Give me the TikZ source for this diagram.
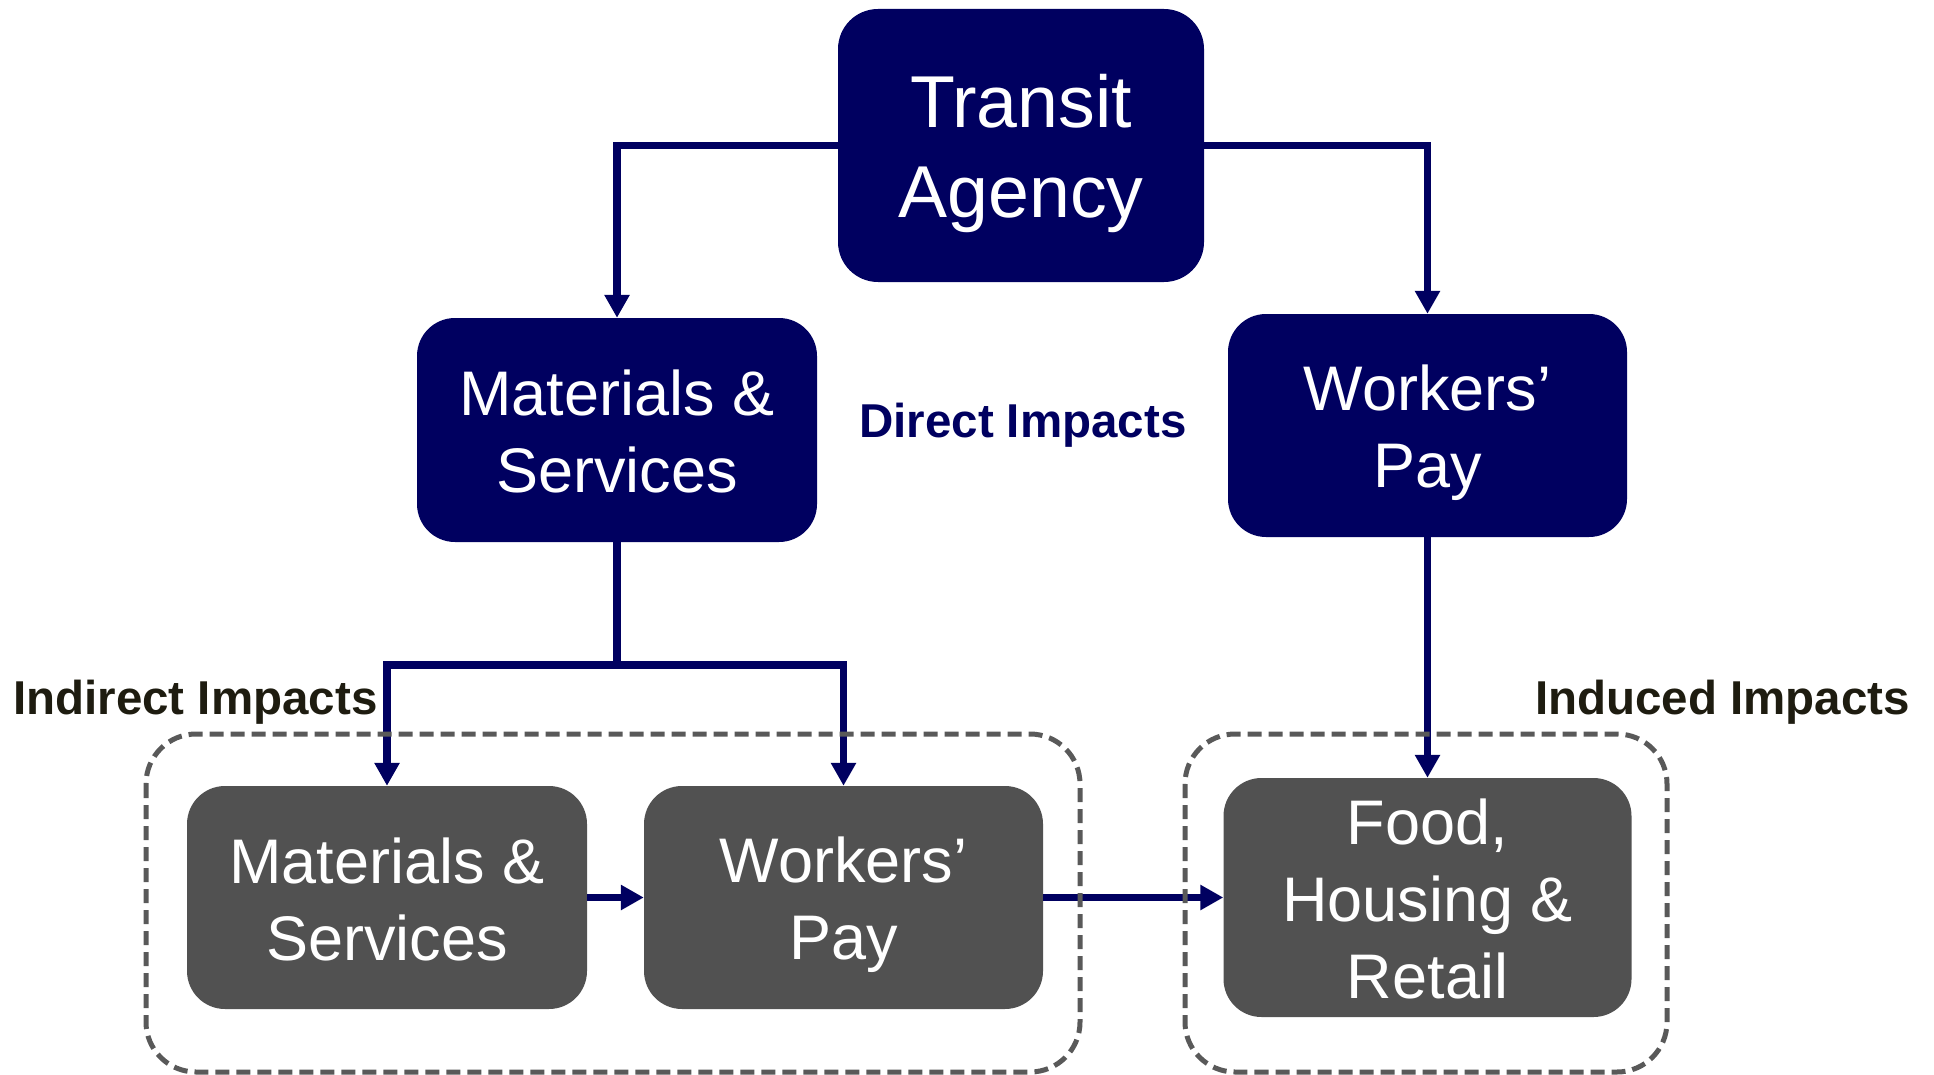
\documentclass[tikz,border=0pt]{standalone}
\usepackage{fontspec}
\setmainfont{Liberation Sans}
\usetikzlibrary{arrows.meta}
\definecolor{navy}{RGB}{0,0,96}
\definecolor{boxgray}{RGB}{81,81,81}
\definecolor{dashgray}{RGB}{89,89,89}
\definecolor{labeldark}{RGB}{30,28,16}
\newcommand{\strA}{\rule[-12pt]{0pt}{72pt}}
\newcommand{\strT}{\rule[-15pt]{0pt}{85pt}}
\begin{document}
\begin{tikzpicture}[x=1pt,y=-1pt,
  box/.style={rounded corners=38pt, inner sep=0pt, text=white, align=center,
    font=\fontsize{63}{77}\selectfont},
  navybox/.style={box, fill=navy},
  graybox/.style={box, fill=boxgray},
  conn/.style={draw=navy, line width=7.5pt, -{Triangle[width=24pt,length=23pt]}},
  plainconn/.style={draw=navy, line width=7.5pt},
  groupbox/.style={draw=dashgray, line width=5pt, dash pattern=on 14pt off 7pt, rounded corners=50pt},
  impact/.style={font=\fontsize{47.5}{57}\selectfont\bfseries, inner sep=0pt}]
\useasboundingbox (0,0) rectangle (1934,1075);

\node[navybox, minimum width=366pt, minimum height=273pt, rounded corners=40pt,
  font=\fontsize{73.5}{90}\selectfont] (TA) at (1021,145.5) {\strT Transit\\Agency\strT};
\node[navybox, minimum width=400pt, minimum height=224pt] (MS1) at (617,430) {\strA Materials \&\\Services\strA};
\node[navybox, minimum width=399pt, minimum height=223pt] (WP1) at (1427.5,425.5) {\strA Workers’\\Pay\strA};
\node[graybox, minimum width=400pt, minimum height=223pt] (MS2) at (387,897.5) {\strA Materials \&\\Services\strA};
\node[graybox, minimum width=399pt, minimum height=223pt] (WP2) at (843.5,897.5) {\strA Workers’\\Pay\strA};
\node[graybox, minimum width=408pt, minimum height=239pt] (Food) at (1427.5,897.5) {\strA Food,\\Housing \&\\Retail\strA};

\node[impact, text=navy, anchor=base west] (DI) at (859,437) {Direct Impacts};
\node[impact, text=labeldark, anchor=base west] (II) at (13,714) {Indirect Impacts};
\node[impact, text=labeldark, anchor=base east] (IN) at (1910,714) {Induced Impacts};

\draw[conn] (TA.west) -| (MS1.north);
\draw[conn] (TA.east) -| (WP1.north);
\coordinate (split) at (617,665);
\draw[plainconn] (MS1.south) -- (split);
\draw[conn] (split) -| (MS2.north);
\draw[conn] (split) -| (WP2.north);
\draw[conn] (WP1.south) -- (Food.north);
\draw[conn] (MS2.east) -- (WP2.west);
\draw[conn] (WP2.east) -- (Food.west);

\draw[groupbox] (146,734) rectangle (1080,1072);
\draw[groupbox] (1185,734) rectangle (1667,1072);
\end{tikzpicture}
\end{document}
